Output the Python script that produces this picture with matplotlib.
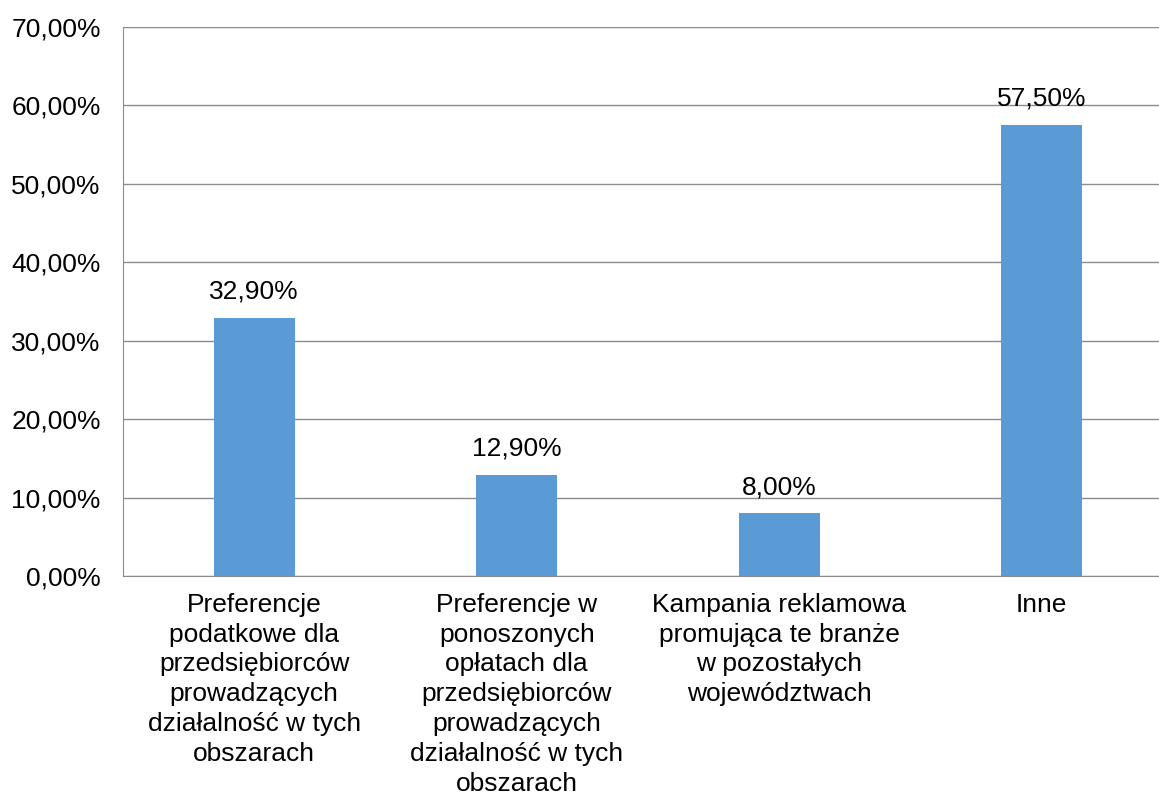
import matplotlib
matplotlib.use('Agg')
import matplotlib.pyplot as plt
import numpy as np

plt.rcParams['font.family'] = ['Liberation Sans', 'DejaVu Sans']

categories = [
    "Preferencje\npodatkowe dla\nprzedsiębiorców\nprowadzących\ndziałalność w tych\nobszarach",
    "Preferencje w\nponoszonych\nopłatach dla\nprzedsiębiorców\nprowadzących\ndziałalność w tych\nobszarach",
    "Kampania reklamowa\npromująca te branże\nw pozostałych\nwojewództwach",
    "Inne",
]
values = [32.9, 12.9, 8.0, 57.5]
value_labels = ["32,90%", "12,90%", "8,00%", "57,50%"]
ytick_vals = [0, 10, 20, 30, 40, 50, 60, 70]

fig = plt.figure(figsize=(11.59, 8.01), dpi=100)
ax = fig.add_axes([123/1159, 225/801, 1050/1159, 549/801])

x = np.arange(len(values))
ax.bar(x, values, width=0.31, color='#5B9BD5', zorder=3)
for xi, v, lab in zip(x, values, value_labels):
    ax.text(xi, v + 1.8, lab, ha='center', va='bottom', fontsize=19, color='black')

ax.set_xlim(-0.5, len(values) - 0.5)
ax.set_ylim(0, 70)
ax.set_yticks(ytick_vals)
ax.set_yticklabels(["%d,00%%" % t for t in ytick_vals], fontsize=19)
ax.set_xticks(x)
ax.set_xticklabels(categories, fontsize=19, linespacing=1.31)
ax.tick_params(axis='y', length=0, pad=16)
ax.tick_params(axis='x', length=0, pad=12)
ax.yaxis.grid(True, color='#8c8c8c', linewidth=1, zorder=0)
ax.set_axisbelow(True)
for s in ['top', 'right']:
    ax.spines[s].set_visible(False)
ax.spines['left'].set_color('#8c8c8c')
ax.spines['bottom'].set_color('#8c8c8c')

plt.savefig('out.png', dpi=100)
